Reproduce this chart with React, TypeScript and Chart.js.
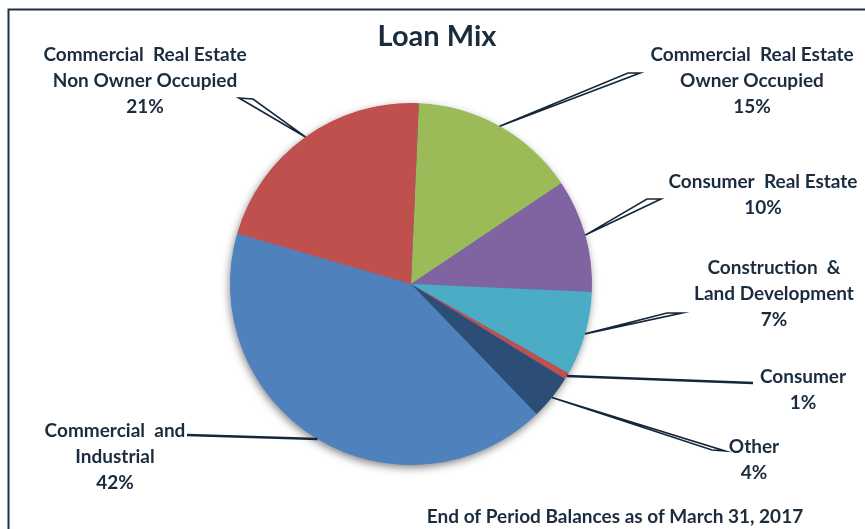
import { useEffect, useRef } from 'react';
import { Chart, registerables } from 'chart.js';

Chart.register(...registerables);

const categories = [
  'Commercial Real Estate Owner Occupied',
  'Consumer Real Estate',
  'Construction & Land Development',
  'Consumer',
  'Other',
  'Commercial and Industrial',
  'Commercial Real Estate Non Owner Occupied',
];
const values = [14.9, 10.1, 7.5, 0.6, 4.0, 41.7, 21.2];
const percentLabels = ['15%', '10%', '7%', '1%', '4%', '42%', '21%'];
const labelLines = [
  ['Commercial  Real Estate', 'Owner Occupied'],
  ['Consumer  Real Estate'],
  ['Construction  &', 'Land Development'],
  ['Consumer'],
  ['Other'],
  ['Commercial  and', 'Industrial'],
  ['Commercial  Real Estate', 'Non Owner Occupied'],
];
const colors = ['#9BBB59', '#8064A2', '#4BACC6', '#C0504D', '#2C4D75', '#4F81BD', '#C0504D'];

const TITLE = 'Loan Mix';
const FOOTER = 'End of Period Balances as of March 31, 2017';

// layout for labels: text centre, first line y, leader style, leader end points
const labelLayout = [
  { x: 752, y: 55, kind: 'wedge', b1: [628, 73], b2: [640, 73] },
  { x: 763, y: 182, kind: 'wedge', b1: [647, 199], b2: [661, 199] },
  { x: 774, y: 268, kind: 'wedge', b1: [667, 313], b2: [682, 313] },
  { x: 803, y: 377, kind: 'line', b1: [753, 383], b2: [753, 383] },
  { x: 754, y: 447, kind: 'wedge', b1: [712, 450], b2: [725, 451] },
  { x: 115, y: 431, kind: 'line', b1: [187, 435], b2: [187, 435] },
  { x: 145, y: 55, kind: 'wedge', b1: [239, 98], b2: [253, 99] },
];

const TEXT = '#1b2c3e';
const FONT = 'Lato, "DejaVu Sans", sans-serif';

const shadowPlugin = {
  id: 'pieShadow',
  beforeDatasetsDraw(chart: any) {
    const arc = chart.getDatasetMeta(0).data[0];
    if (!arc) return;
    const { x, y, outerRadius } = arc.getProps(['x', 'y', 'outerRadius'], true);
    const ctx = chart.ctx;
    ctx.save();
    ctx.shadowColor = 'rgba(0,0,0,0.5)';
    ctx.shadowBlur = 9;
    ctx.shadowOffsetX = -1;
    ctx.shadowOffsetY = 3;
    ctx.fillStyle = '#4F81BD';
    ctx.beginPath();
    ctx.arc(x, y, outerRadius - 0.5, 0, Math.PI * 2);
    ctx.fill();
    ctx.restore();
  },
};

const labelPlugin = {
  id: 'callouts',
  afterDraw(chart: any) {
    const ctx = chart.ctx;
    const meta = chart.getDatasetMeta(0);
    ctx.save();
    // frame
    ctx.strokeStyle = '#1f3044';
    ctx.lineWidth = 2;
    ctx.strokeRect(8.5, 9.5, 900, 600);

    // title
    ctx.fillStyle = TEXT;
    ctx.textAlign = 'center';
    ctx.textBaseline = 'middle';
    ctx.font = `bold 29px ${FONT}`;
    ctx.fillText(TITLE, 437, 37);

    // footer
    ctx.font = `bold 19px ${FONT}`;
    ctx.fillText(FOOTER, 615, 517);

    meta.data.forEach((arc: any, i: number) => {
      const { x, y, startAngle, endAngle, outerRadius } = arc.getProps(
        ['x', 'y', 'startAngle', 'endAngle', 'outerRadius'],
        true
      );
      const mid = (startAngle + endAngle) / 2;
      const ax = x + Math.cos(mid) * outerRadius;
      const ay = y + Math.sin(mid) * outerRadius;
      const L = labelLayout[i];
      ctx.strokeStyle = '#13263a';
      if (L.kind === 'wedge') {
        ctx.lineWidth = 1.6;
        ctx.lineJoin = 'miter';
        ctx.fillStyle = '#ffffff';
        ctx.beginPath();
        ctx.moveTo(ax, ay);
        ctx.lineTo(L.b1[0], L.b1[1]);
        ctx.lineTo(L.b2[0], L.b2[1]);
        ctx.closePath();
        ctx.fill();
        ctx.stroke();
      } else {
        ctx.lineWidth = 2.5;
        ctx.beginPath();
        ctx.moveTo(ax, ay);
        ctx.lineTo(L.b1[0], L.b1[1]);
        ctx.stroke();
      }
      ctx.fillStyle = TEXT;
      ctx.font = `bold 19px ${FONT}`;
      const lines = [...labelLines[i], percentLabels[i]];
      lines.forEach((t, j) => ctx.fillText(t, L.x, L.y + j * 26));
    });
    ctx.restore();
  },
};

export default function App() {
  const ref = useRef<HTMLCanvasElement>(null);
  useEffect(() => {
    const chart = new Chart(ref.current!, {
      type: 'pie',
      data: {
        labels: categories,
        datasets: [
          {
            data: values,
            backgroundColor: colors,
            borderWidth: 0,
            hoverOffset: 0,
            offset: 0,
          } as any,
        ],
      },
      options: {
        responsive: false,
        animation: false,
        rotation: 2.5,
        events: [],
        layout: { padding: { left: 230, right: 273, top: 103, bottom: 64 } },
        plugins: {
          legend: { display: false },
          tooltip: { enabled: false },
          title: { display: false },
        },
      } as any,
      plugins: [shadowPlugin, labelPlugin],
    });
    return () => chart.destroy();
  }, []);
  return (
    <div style={{ position: 'fixed', left: 0, top: 0, width: 865, height: 529, background: '#fff' }}>
      <canvas ref={ref} width={865} height={529} style={{ display: 'block' }} />
    </div>
  );
}
